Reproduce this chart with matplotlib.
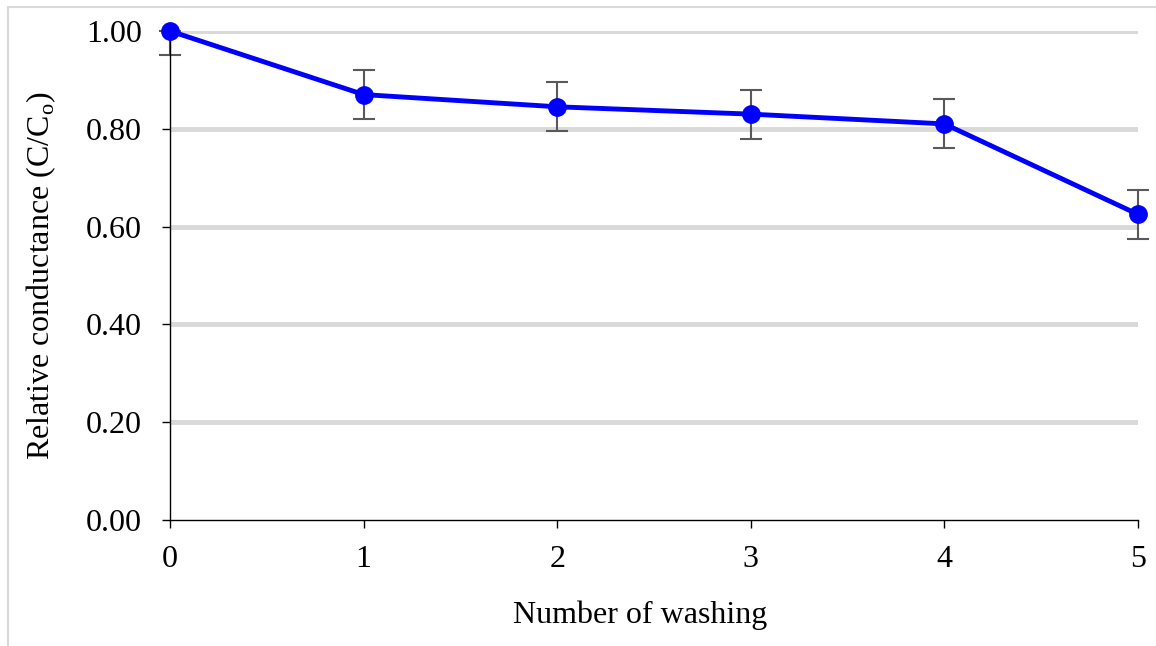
import numpy as np
import matplotlib.pyplot as plt
from matplotlib.patches import Rectangle

# Данные: относительная проводимость после стирок
washes = [0, 1, 2, 3, 4, 5]
conductance = [1.00, 0.87, 0.845, 0.83, 0.81, 0.625]
err_low = [0.05, 0.05, 0.05, 0.05, 0.05, 0.05]
err_high = [0.0, 0.05, 0.05, 0.05, 0.05, 0.05]  # у точки 0 верхняя часть не видна
y_ticks = [0.0, 0.2, 0.4, 0.6, 0.8, 1.0]

plt.rcParams['font.family'] = ['Liberation Serif', 'DejaVu Serif']

fig = plt.figure(figsize=(11.56, 6.46), dpi=100)
ax = fig.add_axes([170 / 1156, 1 - 520 / 646, (1138 - 170) / 1156, (520 - 31) / 646])

# Рамка вокруг рисунка
fig.patches.append(Rectangle((8 / 1156, -0.1), 1.2, 1 - 7 / 646 + 0.1,
                             transform=fig.transFigure, fill=False,
                             edgecolor='#d9d9d9', linewidth=1.5))

for yv in y_ticks[1:]:
    ax.axhline(yv, color='#d9d9d9', linewidth=3.5, zorder=0)

eb = ax.errorbar(washes, conductance, yerr=[err_low, err_high], fmt='none',
                 ecolor='#595959', elinewidth=1.5, capsize=8, capthick=1.5, zorder=2)
for art in eb.lines[1] + eb.lines[2]:
    art.set_clip_on(False)
ax.plot(washes, conductance, color='#0000ff', linewidth=3.5, marker='o',
        markersize=12.5, zorder=3, clip_on=False)

ax.set_xlim(0, 5)
ax.set_ylim(0, 1.0)
ax.set_xticks(washes)
ax.set_yticks(y_ticks)
ax.set_yticklabels([f'{v:.2f}' for v in y_ticks])
ax.tick_params(labelsize=23, direction='out', length=6, width=1)
ax.tick_params(axis='x', pad=12)
ax.tick_params(axis='y', pad=14)

for s in ['top', 'right']:
    ax.spines[s].set_visible(False)
for s in ['left', 'bottom']:
    ax.spines[s].set_linewidth(1)

ax.set_xlabel('Number of washing', fontsize=23, labelpad=18)
ax.xaxis.set_label_coords(0.486, -0.165)
ax.set_ylabel('Relative conductance (C/C$_\\mathregular{o}$)', fontsize=23, labelpad=20)

fig.savefig('out.png', dpi=100)
